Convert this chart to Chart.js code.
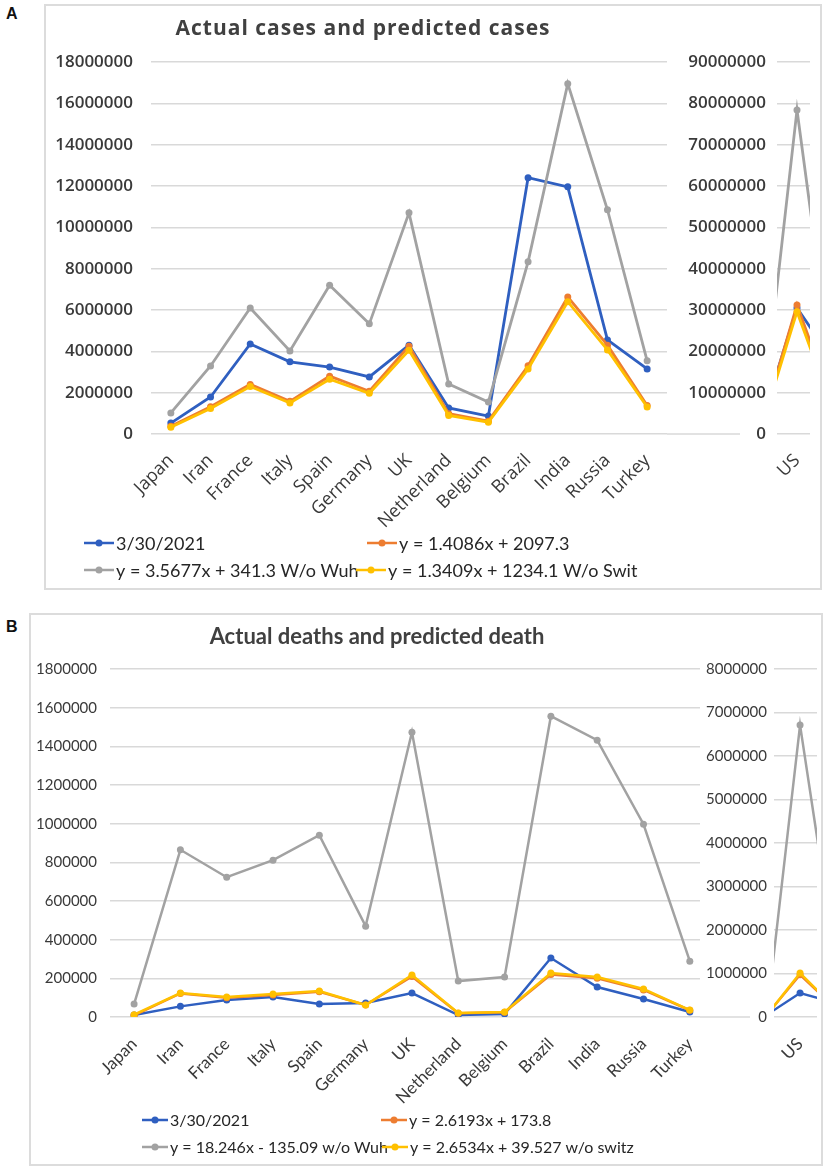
<!DOCTYPE html>
<html>
<head>
<meta charset="utf-8">
<script src="https://cdn.jsdelivr.net/npm/chart.js@4.4.1/dist/chart.umd.min.js"></script>
<style>
  body { margin: 0; background: #fff; width: 829px; height: 1169px; position: relative; overflow: hidden; }
  .frame { position: absolute; border: 2px solid #dcdcdc; box-sizing: border-box; }
  .tag { position: absolute; font: bold 16px "Liberation Sans", Arial, sans-serif; color: #111; }
  .box { position: absolute; }
</style>
</head>
<body>
<div class="tag" style="left:6px;top:5px">A</div>
<div class="frame" style="left:44px;top:4px;width:778px;height:586px"></div>
<div class="box" style="left:44px;top:4px;width:777px;height:585px"><canvas id="casesMain"></canvas></div>
<div class="box" style="left:660px;top:4px;width:161px;height:585px"><canvas id="casesUS"></canvas></div>

<div class="tag" style="left:6px;top:618px">B</div>
<div class="frame" style="left:29px;top:613px;width:794px;height:553px"></div>
<div class="box" style="left:29px;top:613px;width:793px;height:552px"><canvas id="deathsMain"></canvas></div>
<div class="box" style="left:690px;top:613px;width:132px;height:552px"><canvas id="deathsUS"></canvas></div>

<script>
const categories = ['Japan', 'Iran', 'France', 'Italy', 'Spain', 'Germany', 'UK', 'Netherland', 'Belgium', 'Brazil', 'India', 'Russia', 'Turkey'];

// A: cases (left axis)
const casesActual   = [530000, 1790000, 4360000, 3490000, 3240000, 2760000, 4300000, 1260000, 870000, 12400000, 11960000, 4550000, 3150000];
const casesPredAll  = [380000, 1320000, 2400000, 1580000, 2800000, 2070000, 4250000, 980000, 620000, 3300000, 6630000, 4300000, 1380000];
const casesWoWuh    = [1020000, 3290000, 6100000, 4020000, 7200000, 5330000, 10700000, 2420000, 1550000, 8330000, 16950000, 10850000, 3540000];
const casesWoSwit   = [330000, 1230000, 2300000, 1500000, 2650000, 1970000, 4050000, 900000, 570000, 3150000, 6400000, 4070000, 1310000];
const casesNames = ['3/30/2021', 'y = 1.4086x + 2097.3', 'y = 3.5677x + 341.3 W/o Wuh', 'y = 1.3409x + 1234.1 W/o Swit'];
const casesLeftTicks  = [0, 2000000, 4000000, 6000000, 8000000, 10000000, 12000000, 14000000, 16000000, 18000000];
const casesRightTicks = [0, 10000000, 20000000, 30000000, 40000000, 50000000, 60000000, 70000000, 80000000, 90000000];

// US panel on the secondary axis: [neighbour out of view, US, neighbour out of view]
const usLabels = ['US'];
const usSlots = [-1, 0, 1];
const usCasesActual  = [11100000, 30500000, 21650000];
const usCasesPredAll = [10700000, 31200000, 14500000];
const usCasesWoWuh   = [24900000, 78400000, 33200000];
const usCasesWoSwit  = [9850000, 29600000, 13100000];

// B: deaths (left axis)
const deathsActual  = [10000, 55000, 88000, 103000, 67000, 72000, 124000, 10000, 16000, 305000, 155000, 93000, 26000];
const deathsPredAll = [9000, 122000, 100000, 114000, 130000, 62000, 210000, 20000, 25000, 220000, 200000, 140000, 35000];
const deathsWoWuh   = [67000, 865000, 723000, 811000, 940000, 470000, 1473000, 186000, 207000, 1556000, 1432000, 997000, 289000];
const deathsWoSwitz = [12000, 124000, 103000, 119000, 134000, 62000, 217000, 21000, 26000, 227000, 207000, 145000, 36000];
const deathsNames = ['3/30/2021', 'y = 2.6193x + 173.8', 'y = 18.246x - 135.09 w/o Wuh', 'y = 2.6534x + 39.527 w/o switz'];
const deathsLeftTicks  = [0, 200000, 400000, 600000, 800000, 1000000, 1200000, 1400000, 1600000, 1800000];
const deathsRightTicks = [0, 1000000, 2000000, 3000000, 4000000, 5000000, 6000000, 7000000, 8000000];

const usDeathsActual  = [60000, 550000, 340000];
const usDeathsPredAll = [70000, 970000, 260000];
const usDeathsWoWuh   = [160000, 6710000, 1770000];
const usDeathsWoSwitz = [60000, 1010000, 260000];

const seriesColors = ['#2f5fc0', '#ed7d31', '#a2a2a2', '#ffc000'];
const gridColor = '#d9d9d9';
const textColor = '#3a3a3a';

// title, legend and the stretch of zero line under the right-hand labels
const panelText = {
  id: 'panelText',
  beforeDatasetsDraw(chart, args, opts) {
    if (!opts.zeroExtend) return;
    const ctx = chart.ctx, y0 = chart.scales.y.getPixelForValue(0);
    ctx.save();
    ctx.strokeStyle = gridColor;
    ctx.lineWidth = 1.5;
    ctx.beginPath();
    ctx.moveTo(chart.chartArea.right, y0);
    ctx.lineTo(chart.chartArea.right + opts.zeroExtend, y0);
    ctx.stroke();
    ctx.restore();
  },
  afterDraw(chart, args, opts) {
    if (!opts.title) return;
    const ctx = chart.ctx;
    ctx.save();
    ctx.fillStyle = '#404040';
    ctx.font = opts.titleFont;
    ctx.letterSpacing = opts.titleSpacing || '0px';
    ctx.textAlign = 'center';
    ctx.textBaseline = 'middle';
    ctx.fillText(opts.title, opts.titleX, opts.titleY);
    ctx.letterSpacing = '0px';
    ctx.font = opts.legendFont;
    ctx.textAlign = 'left';
    opts.items.forEach((it, i) => {
      const c = seriesColors[i];
      ctx.strokeStyle = c;
      ctx.fillStyle = c;
      ctx.lineWidth = 2.5;
      ctx.beginPath();
      ctx.moveTo(it[0], it[1]);
      ctx.lineTo(it[0] + opts.markW, it[1]);
      ctx.stroke();
      ctx.beginPath();
      ctx.arc(it[0] + opts.markW / 2, it[1], 3.5, 0, Math.PI * 2);
      ctx.fill();
      ctx.fillStyle = '#262626';
      ctx.fillText(chart.data.datasets[i].label, it[0] + opts.markW + 2, it[1] + 1);
    });
    ctx.restore();
  }
};

function lineSets(names, series, xs, width) {
  return series.map((vals, i) => ({
    label: names[i],
    data: vals.map((v, j) => ({ x: xs[j], y: v })),
    borderColor: seriesColors[i],
    backgroundColor: seriesColors[i],
    pointBackgroundColor: seriesColors[i],
    pointBorderWidth: 0,
    pointRadius: 3.5,
    borderWidth: width,
    tension: 0,
    order: 4 - i
  }));
}

function xAxis(labels, min, max, height, font, pad) {
  return {
    type: 'linear', min: min, max: max,
    afterBuildTicks: s => { s.ticks = labels.map((l, i) => ({ value: i })); },
    // fixed height, and no extra side room for the slanted labels
    afterFit: s => { s.height = height; s.paddingLeft = 0; s.paddingRight = 0; },
    ticks: { autoSkip: false, minRotation: 45, maxRotation: 45, padding: pad, color: textColor, font: font,
             callback: v => labels[v] },
    grid: { display: false, drawTicks: false },
    border: { display: false }
  };
}

function yAxis(ticks, width, font, pad) {
  return {
    min: ticks[0], max: ticks[ticks.length - 1],
    afterBuildTicks: s => { s.ticks = ticks.map(v => ({ value: v })); },
    afterFit: s => { s.width = width; },
    ticks: { padding: pad, color: textColor, font: font, callback: v => String(v) },
    grid: { color: gridColor, lineWidth: 1.5, drawTicks: false },
    border: { display: false }
  };
}

function makeChart(id, datasets, x, y, padding, text) {
  return new Chart(document.getElementById(id), {
    type: 'line',
    data: { datasets: datasets },
    options: {
      responsive: true, maintainAspectRatio: false, animation: false, events: [],
      layout: { padding: padding },
      plugins: { legend: { display: false }, tooltip: { enabled: false }, panelText: text },
      scales: { x: x, y: y }
    },
    plugins: [panelText]
  });
}

const slots = categories.map((c, i) => i);

// Panel A
const fontA = { family: 'Open Sans', size: 17, weight: '600' };
const catFontA = { family: 'Open Sans', size: 18 };
makeChart('casesMain',
  lineSets(casesNames, [casesActual, casesPredAll, casesWoWuh, casesWoSwit], slots, 2.8),
  xAxis(categories, -0.5, 12.5, 155, catFontA, 16),
  yAxis(casesLeftTicks, 107, fontA, 18),
  { top: 58, right: 154, left: 0, bottom: 0 },
  { title: 'Actual cases and predicted cases', titleX: 319, titleY: 25, titleFont: 'bold 21px "Open Sans"',
    titleSpacing: '1px', legendFont: '18px Lato', markW: 30, zeroExtend: 73,
    items: [[40, 539], [323, 539], [40, 566], [312, 566]] });
makeChart('casesUS',
  lineSets(casesNames, [usCasesActual, usCasesPredAll, usCasesWoWuh, usCasesWoSwit], usSlots, 2.8),
  xAxis(usLabels, -0.8, 0.52, 155, catFontA, 16),
  yAxis(casesRightTicks, 117, fontA, 11),
  { top: 58, right: 11, left: 0, bottom: 0 },
  {});

// Panel B
const fontB = { family: 'Lato', size: 15 };
const catFontB = { family: 'Lato', size: 17 };
makeChart('deathsMain',
  lineSets(deathsNames, [deathsActual, deathsPredAll, deathsWoWuh, deathsWoSwitz], slots, 2.5),
  xAxis(categories, -0.52, 12.22, 148, catFontB, 17),
  yAxis(deathsLeftTicks, 81, fontB, 13),
  { top: 56, right: 122, left: 0, bottom: 0 },
  { title: 'Actual deaths and predicted death', titleX: 377 - 29, titleY: 24, titleFont: 'bold 22px Lato',
    legendFont: '16px Lato', markW: 26, zeroExtend: 50,
    items: [[113, 507], [352, 507], [113, 534], [353, 534]] });
makeChart('deathsUS',
  lineSets(deathsNames, [usDeathsActual, usDeathsPredAll, usDeathsWoWuh, usDeathsWoSwitz], usSlots, 2.5),
  xAxis(usLabels, -0.8, 0.52, 148, catFontB, 17),
  yAxis(deathsRightTicks, 84, fontB, 7),
  { top: 56, right: 5, left: 0, bottom: 0 },
  {});
</script>
</body>
</html>
